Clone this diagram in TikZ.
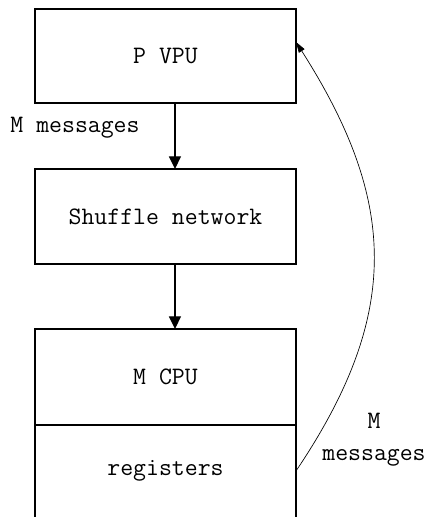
\documentclass[tikz,border=0pt]{standalone}
\usepackage{tikz}
\usetikzlibrary{arrows.meta}

\begin{document}
\begin{tikzpicture}[x=0.75pt,y=0.75pt,
	box/.style={draw,line width=1pt,inner sep=0pt,outer sep=0pt,minimum width=195.75pt,font=\ttfamily\fontsize{18.8}{24}\selectfont},
	lbl/.style={inner sep=0pt,align=center,font=\ttfamily\fontsize{18.8}{24}\selectfont},
	flow/.style={line width=1pt,-{Triangle[width=9pt,length=9.5pt]}},
	back/.style={line width=0.5pt,-{Triangle[width=5pt,length=8pt]}}]
	\useasboundingbox (0,0) rectangle (427,517);

	\node[box,minimum height=70.5pt] (vpu) at (165.5,461) {P VPU};
	\node[box,minimum height=71.25pt] (shuffle) at (165.5,300.5) {Shuffle network};
	\node[box,minimum height=72pt] (cpu) at (165.5,140) {M CPU};
	\node[box,draw=none,minimum height=69pt] (reg) at (165.5,46) {registers};
	\draw[line width=1pt] (reg.south west) -- (reg.north west) -- (reg.north east) -- (reg.south east);

	\node[lbl] (m1) at (75,389) {M messages};
	\node[lbl] (m2) at (374,77) {M\\messages};
	\coordinate (tip) at (296,475);

	\draw[flow] ([xshift=7.1pt]vpu.south) -- ([xshift=7.1pt]shuffle.north);
	\draw[flow] ([xshift=7.1pt]shuffle.south) -- ([xshift=7.1pt]cpu.north);
	\draw[back] (reg.east) .. controls (401,202) and (398,315) .. (tip);

\end{tikzpicture}
\end{document}
